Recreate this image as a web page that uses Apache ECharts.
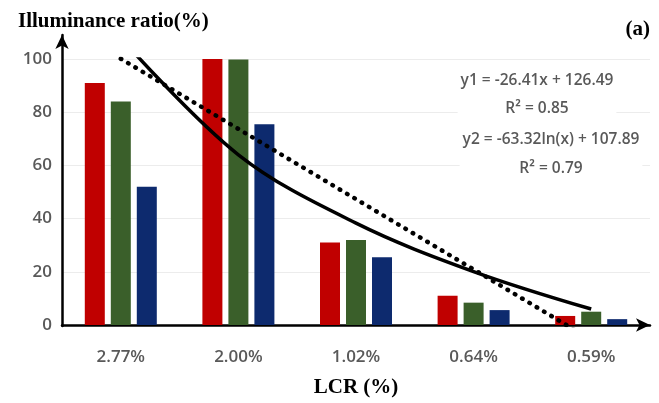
<!DOCTYPE html>
<html>
<head>
<meta charset="utf-8">
<script src="https://cdn.jsdelivr.net/npm/echarts@6/dist/echarts.min.js"></script>
<style>
  html, body { margin: 0; padding: 0; background: #fff; }
  #main { width: 659px; height: 403px; }
</style>
</head>
<body>
<div id="main"></div>
<script>
const categories = ['2.77%', '2.00%', '1.02%', '0.64%', '0.59%']
const redValues = [91, 100, 31, 11, 3.4]
const greenValues = [84, 99.8, 32, 8.4, 5]
const blueValues = [52, 75.5, 25.5, 5.6, 2.2]
// trend lines, read at each category
const linearTrend = [100.1, 73.7, 47.3, 20.9, -5.6]
const logTrend = [107.9, 64.0, 38.3, 20.1, 6.0]
const yTicks = [0, 20, 40, 60, 80, 100]

const grey = '#595959'
const numFont = '"Open Sans", "Noto Sans", sans-serif'
const serif = '"Liberation Serif", "DejaVu Serif", serif'

const chart = echarts.init(document.getElementById('main'))

const option = {
  animation: false,
  backgroundColor: '#fff',
  grid: [
    { left: 62, right: 9, top: 59, bottom: 77 },
    // only used for the y axis arrow that runs above 100
    { left: 62, right: 9, top: 35, bottom: 77 }
  ],
  xAxis: [
    {
      type: 'category',
      data: categories,
      gridIndex: 0,
      axisLine: {
        show: true,
        symbol: ['none', 'arrow'],
        symbolSize: [10, 14],
        lineStyle: { color: '#000', width: 2.5 }
      },
      axisTick: { show: false },
      axisLabel: {
        color: grey,
        fontSize: 17,
        fontWeight: 600,
        fontFamily: numFont,
        margin: 24
      },
      name: 'LCR (%)',
      nameLocation: 'middle',
      nameGap: 52,
      nameTextStyle: {
        color: '#000',
        fontSize: 21,
        fontWeight: 'bold',
        fontFamily: serif
      }
    },
    {
      type: 'category',
      data: categories,
      gridIndex: 1,
      show: false
    }
  ],
  yAxis: [
    {
      type: 'value',
      gridIndex: 0,
      min: 0,
      max: 100,
      interval: 20,
      axisLine: { show: false },
      axisTick: { show: false },
      splitLine: { lineStyle: { color: '#ececec', width: 1 } },
      axisLabel: {
        color: grey,
        fontSize: 17,
        fontWeight: 600,
        fontFamily: numFont,
        margin: 10,
        formatter: v => (yTicks.includes(v) ? String(v) : '')
      }
    },
    {
      type: 'value',
      gridIndex: 1,
      min: 0,
      max: 1,
      axisLine: {
        show: true,
        symbol: ['none', 'arrow'],
        symbolSize: [10, 14],
        lineStyle: { color: '#000', width: 2.5 }
      },
      axisTick: { show: false },
      axisLabel: { show: false },
      splitLine: { show: false }
    }
  ],
  title: [
    {
      text: 'Illuminance ratio(%)',
      left: 13,
      top: 6,
      textStyle: { color: '#000', fontSize: 21, fontWeight: 'bold', fontFamily: serif }
    },
    {
      text: '(a)',
      right: 4,
      top: 14,
      textStyle: { color: '#000', fontSize: 21, fontWeight: 'bold', fontFamily: serif }
    }
  ],
  graphic: [
    {
      type: 'text',
      x: 537,
      y: 67,
      z: 10,
      style: {
        text: 'y1 = -26.41x + 126.49\nR² = 0.85',
        align: 'center',
        fill: grey,
        font: '600 15.5px ' + numFont,
        lineHeight: 28,
        backgroundColor: '#fff',
        padding: [0, 3]
      }
    },
    {
      type: 'text',
      x: 551,
      y: 125,
      z: 10,
      style: {
        text: 'y2 = -63.32ln(x) + 107.89\nR² = 0.79',
        align: 'center',
        fill: grey,
        font: '600 15.5px ' + numFont,
        lineHeight: 29,
        backgroundColor: '#fff',
        padding: [0, 3]
      }
    }
  ],
  series: [
    {
      type: 'bar',
      data: redValues,
      barWidth: 20,
      barGap: '30%',
      itemStyle: { color: '#C00000' }
    },
    {
      type: 'bar',
      data: greenValues,
      barWidth: 20,
      barGap: '30%',
      itemStyle: { color: '#3A5F2A' }
    },
    {
      type: 'bar',
      data: blueValues,
      barWidth: 20,
      barGap: '30%',
      itemStyle: { color: '#0D2A6E' }
    },
    {
      type: 'line',
      data: linearTrend,
      symbol: 'none',
      clip: true,
      z: 5,
      lineStyle: { color: '#000', width: 4.5, type: [0.5, 8], cap: 'round' }
    },
    {
      type: 'line',
      data: logTrend,
      symbol: 'none',
      smooth: 0.35,
      clip: true,
      z: 5,
      lineStyle: { color: '#000', width: 3.5 }
    }
  ]
}

chart.setOption(option)
</script>
</body>
</html>
